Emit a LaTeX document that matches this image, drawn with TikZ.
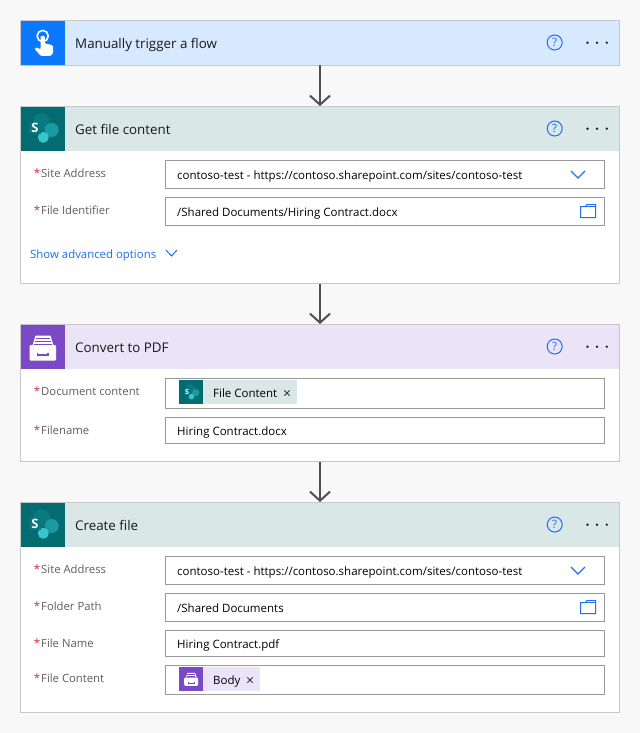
\documentclass[tikz,border=0pt]{standalone}
\usepackage{fontspec}
\setmainfont{Open Sans}
\usetikzlibrary{arrows.meta}
\definecolor{pagebg}{HTML}{F8F8F8}
\definecolor{cardline}{HTML}{C8C8C8}
\definecolor{fieldline}{HTML}{999999}
\definecolor{trighead}{HTML}{D7E9FF}
\definecolor{trigicon}{HTML}{0A78FF}
\definecolor{sphead}{HTML}{D9E7E6}
\definecolor{spicon}{HTML}{036C70}
\definecolor{sptop}{HTML}{0A7A7E}
\definecolor{spright}{HTML}{1A9BA1}
\definecolor{splow}{HTML}{37C6D0}
\definecolor{spsq}{HTML}{04787C}
\definecolor{pdfhead}{HTML}{EBE3F7}
\definecolor{pdficon}{HTML}{7B49C8}
\definecolor{linkblue}{HTML}{1F6FF0}
\definecolor{labelgray}{HTML}{605E5C}
\definecolor{reqred}{HTML}{D8293C}
\definecolor{arrowgray}{HTML}{505050}
\tikzset{
  card/.style={draw=cardline,line width=1pt,fill=white,minimum width=599pt,anchor=north,inner sep=0,outer sep=0},
  headbar/.style={anchor=north west,minimum width=598pt,minimum height=44pt,inner sep=0,outer sep=0},
  iconbox/.style={anchor=north west,minimum width=44pt,minimum height=44pt,inner sep=0,outer sep=0},
  titletext/.style={anchor=base west,inner sep=0,font=\fontsize{13.35}{15}\selectfont,text=black!90},
  labeltext/.style={anchor=base west,inner sep=0,font=\fontsize{11.3}{14}\selectfont,text=labelgray},
  startext/.style={anchor=base west,inner sep=0,font=\fontsize{11.5}{14}\selectfont,text=reqred},
  valuetext/.style={anchor=base west,inner sep=0,font=\fontsize{11.5}{14}\selectfont,text=black},
  closetext/.style={anchor=base,inner sep=0,font=\fontsize{14}{14}\selectfont,text=black!85},
  linktext/.style={anchor=base west,inner sep=0,font=\fontsize{11.4}{14}\selectfont,text=linkblue},
  fieldbox/.style={draw=fieldline,line width=1pt,fill=white,minimum width=439pt,anchor=north west,inner sep=0,outer sep=0},
  flowarrow/.style={draw=arrowgray,line width=2pt,-{Straight Barb[length=9pt,width=20pt,line width=2pt]},shorten >=0.5pt},
  bluethin/.style={draw=linkblue,line width=1pt,fill=none},
}
\newcommand{\headerrow}[5]{%
  \node[headbar,fill=#3] (#1h) at (21,#2+.5) {};
  \node[iconbox,fill=#4] (#1i) at (21,#2+.5) {};
  \node[titletext] (#1t) at (75,#2+27.9) {#5};
  \node[circle,draw=linkblue,line width=1pt,minimum size=15pt,inner sep=0,font=\fontsize{11.5}{12}\selectfont,text=linkblue] (#1q) at (554.7,#2+22) {?};
  \foreach \dx in {587.5,597,606.8}{\fill[black!85] (\dx,#2+22.2) circle (1.35pt);}
}
\newcommand{\fieldrow}[5]{%
  \node[startext] (#1s) at (33.6,#2+16.8) {*};
  \node[labeltext] (#1l) at (41,#2+16.8) {#4};
  \node[fieldbox,minimum height=#3pt] (#1b) at (165.5,#2) {};
  \ifx\relax#5\relax\else\node[valuetext] (#1v) at (177,#2+#3/2+4.5) {#5};\fi
}
% name, centre, scale, font size
\newcommand{\spglyph}[4]{%
  \begin{scope}[shift={(#2)},scale=#3]
    \fill[sptop] (-0.8,-6.8) circle (8.5);
    \fill[spright] (9.2,1.5) circle (7);
    \fill[splow] (0.8,8.8) circle (5.5);
    \fill[spsq] (-13.5,-6.5) rectangle (-1.8,5.8);
    \node[inner sep=0,text=white,font=\bfseries\fontsize{#4}{12}\selectfont] (#1) at (-7.6,-0.3) {S};
  \end{scope}}
\newcommand{\drawerglyph}[3]{%
  \begin{scope}[shift={(#1)},scale=#2]
    \fill[white] (-10,-1) -- (-7,-11) -- (8,-11) -- (11,-1) -- cycle;
    \foreach \yy/\ii in {-8/3.5,-5/4.5,-2.4/5.5}{\draw[pdficon,line width=#3*0.9pt] (-\ii-3.5,\yy) -- (\ii+3.5,\yy);}
    \fill[white,rounded corners=1pt] (-13,-1.5) rectangle (13.5,14);
    \draw[pdficon,line width=#3*1.3pt] (-5,6.5) -- (-5,8.5) -- (5.5,8.5) -- (5.5,6.5);
  \end{scope}}
\begin{document}
\begin{tikzpicture}[x=1pt,y=-1pt]
\useasboundingbox (0,0) rectangle (640,733);
\fill[pagebg] (0,0) rectangle (640,733);
% cards
\node[card,minimum height=45pt] (c1) at (320,20.5) {};
\node[card,minimum height=177pt] (c2) at (320,106.5) {};
\node[card,minimum height=137pt] (c3) at (320,324.5) {};
\node[card,minimum height=210pt] (c4) at (320,502.5) {};
% connectors
\draw[flowarrow] (c1.south) -- (c2.north);
\draw[flowarrow] (c2.south) -- (c3.north);
\draw[flowarrow] (c3.south) -- (c4.north);
% headers
\headerrow{c1}{20.5}{trighead}{trigicon}{Manually trigger a flow}
\headerrow{c2}{106.5}{sphead}{spicon}{Get file content}
\headerrow{c3}{324.5}{pdfhead}{pdficon}{Convert to PDF}
\headerrow{c4}{502.5}{sphead}{spicon}{Create file}
% trigger icon
\draw[white,line width=1.6pt,fill=none] (42.7,36) circle (5.6);
\fill[white,rounded corners=1pt] (40.6,36) -- (44.8,36) -- (44.8,43.5) -- (52,45) -- (53.3,47) -- (53,53.5) -- (50.5,56) -- (41,56) -- (35,49.5) -- (35,48) -- (37,47.5) -- (40.6,49.5) -- cycle;
% icons
\spglyph{spa}{42.5,128.5}{1}{13}
\spglyph{spb}{42.5,524.5}{1}{13}
\drawerglyph{42.5,346.5}{1}{1}
% card 2
\fieldrow{a}{160.5}{28}{Site Address}{contoso-test - https://contoso.sharepoint.com/sites/contoso-test}
\fieldrow{b}{197.5}{28}{File Identifier}{/Shared Documents/Hiring Contract.docx}
\node[linktext] (adv) at (30,258) {Show advanced options};
\draw[bluethin] (166,250) -- (171.5,256) -- (177,250);
% card 3
\fieldrow{d}{378.5}{30}{Document content}{}
\fieldrow{e}{417.5}{26}{Filename}{Hiring Contract.docx}
\node[anchor=north west,fill=sphead,minimum width=94pt,minimum height=24pt,inner sep=0] (tok1) at (203,380) {};
\node[anchor=north west,fill=spicon,minimum width=24pt,minimum height=24pt,inner sep=0] (tok1i) at (179,380) {};
\spglyph{spc}{191,392}{0.52}{7}
\node[valuetext] (tok1t) at (213,397) {File Content};
\node[closetext] (tok1x) at (287,398) {×};
% card 4
\fieldrow{f}{556.5}{28}{Site Address}{contoso-test - https://contoso.sharepoint.com/sites/contoso-test}
\fieldrow{g}{593.5}{28}{Folder Path}{/Shared Documents}
\fieldrow{h}{630.5}{26}{File Name}{Hiring Contract.pdf}
\fieldrow{j}{665.5}{29}{File Content}{}
\node[anchor=north west,fill=pdfhead,minimum width=57pt,minimum height=24pt,inner sep=0] (tok2) at (203,667) {};
\node[anchor=north west,fill=pdficon,minimum width=24pt,minimum height=24pt,inner sep=0] (tok2i) at (179,667) {};
\drawerglyph{191,678.5}{0.52}{0.52}
\node[valuetext] (tok2t) at (213,684) {Body};
\node[closetext] (tok2x) at (250,685) {×};
% dropdown chevrons
\draw[bluethin,line width=1.3pt] (571,171) -- (578,178) -- (585,171);
\draw[bluethin,line width=1.3pt] (571,567) -- (578,574) -- (585,567);
% folder icons
\foreach \yy in {205,601}{
  \draw[bluethin] (580.5,\yy+1.5) -- (580.5,\yy+12.5) -- (595.5,\yy+12.5) -- (595.5,\yy-0.5) -- (587,\yy-0.5) -- (585.5,\yy+1.5) -- cycle;
  \draw[bluethin] (585.5,\yy+1.5) -- (595.5,\yy+1.5);
}
\end{tikzpicture}
\end{document}
